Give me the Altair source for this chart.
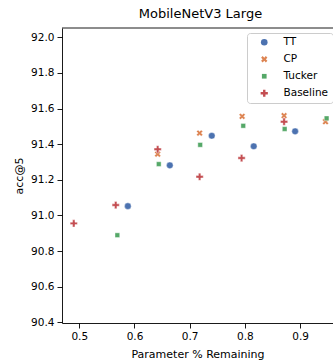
import altair as alt
import pandas as pd

series = ["TT", "CP", "Tucker", "Baseline"]
colors = ["#4c72b0", "#dd8452", "#55a868", "#c44e52"]

tt_x = [0.588, 0.664, 0.740, 0.816, 0.891]
tt_y = [91.052, 91.281, 91.447, 91.388, 91.472]
cp_x = [0.642, 0.718, 0.795, 0.871, 0.946]
cp_y = [91.344, 91.462, 91.556, 91.560, 91.526]
tucker_x = [0.569, 0.644, 0.719, 0.797, 0.872, 0.948]
tucker_y = [90.889, 91.288, 91.396, 91.503, 91.485, 91.545]
base_x = [0.490, 0.566, 0.642, 0.718, 0.794, 0.871]
base_y = [90.955, 91.058, 91.371, 91.217, 91.322, 91.526]

x_ticks = [0.5, 0.6, 0.7, 0.8, 0.9]
y_ticks = [90.4, 90.6, 90.8, 91.0, 91.2, 91.4, 91.6, 91.8, 92.0]

rows = []
for name, xs, ys in [("TT", tt_x, tt_y), ("CP", cp_x, cp_y),
                     ("Tucker", tucker_x, tucker_y), ("Baseline", base_x, base_y)]:
    for a, b in zip(xs, ys):
        rows.append({"method": name, "param": a, "acc": b})
df = pd.DataFrame(rows)

X_PATH = ("M-0.5,-1L0,-0.5L0.5,-1L1,-0.5L0.5,0L1,0.5L0.5,1L0,0.5"
          "L-0.5,1L-1,0.5L-0.5,0L-1,-0.5Z")
PLUS_PATH = ("M-0.333,-1H0.333V-0.333H1V0.333H0.333V1H-0.333V0.333"
             "H-1V-0.333H-0.333Z")
shapes = ["circle", X_PATH, "square", PLUS_PATH]
sizes = [44, 40, 22, 52]

W, H = 271, 295

legend = alt.Legend(
    title=None, orient="none", legendX=185, legendY=5, fillColor="white",
    strokeColor="#cccccc", cornerRadius=3, padding=4, symbolOffset=8,
    labelOffset=14, rowPadding=6, symbolSize=45, labelFontSize=10.5,
    labelFont="DejaVu Sans", labelColor="black", symbolStrokeWidth=0,
)

pts = alt.Chart(df).mark_point(filled=True, opacity=1, stroke="white",
                               strokeWidth=0.4).encode(
    x=alt.X("param:Q",
            scale=alt.Scale(domain=[0.4687, 0.9596], nice=False, zero=False),
            axis=alt.Axis(values=x_ticks, format=".1f",
                          title="Parameter % Remaining", grid=False)),
    y=alt.Y("acc:Q",
            scale=alt.Scale(domain=[90.396, 92.052], nice=False, zero=False),
            axis=alt.Axis(values=y_ticks, format=".1f", title="acc@5",
                          grid=False)),
    color=alt.Color("method:N", scale=alt.Scale(domain=series, range=colors),
                    legend=legend),
    shape=alt.Shape("method:N", scale=alt.Scale(domain=series, range=shapes),
                    legend=legend),
    size=alt.Size("method:N",
                  scale=alt.Scale(type="ordinal", domain=series, range=sizes),
                  legend=None),
)

top = alt.Chart(pd.DataFrame({"a": [0]})).mark_rule(
    color="black", strokeWidth=0.9).encode(
    y=alt.value(0), x=alt.value(0), x2=alt.value(W + 20))

chart = alt.layer(top, pts).properties(
    width=W, height=H,
    title=alt.TitleParams("MobileNetV3 Large", dx=3, offset=7),
    autosize=alt.AutoSizeParams(type="none"),
    padding={"left": 62, "top": 28, "right": 0, "bottom": 41},
).configure_view(stroke=None).configure_axis(
    domainColor="black", tickColor="black", labelColor="black",
    titleColor="black", labelFont="DejaVu Sans", titleFont="DejaVu Sans",
    labelFontSize=10.5, titleFontSize=11, titleFontWeight="normal",
    tickSize=5, domainWidth=0.9, tickWidth=0.9, labelPadding=3,
).configure_axisY(titlePadding=6).configure_axisX(titlePadding=7).configure_title(
    font="DejaVu Sans", fontSize=13, fontWeight="normal", color="black",
)

chart.save("out.html", embed_options={"renderer": "svg", "actions": False})
